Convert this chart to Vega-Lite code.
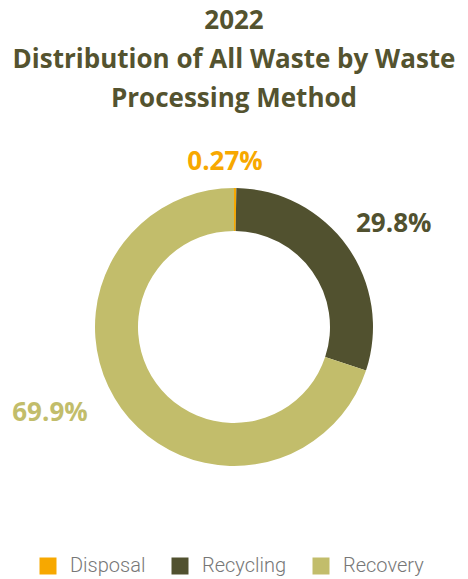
{
  "$schema": "https://vega.github.io/schema/vega-lite/v6.json",
  "width": 468,
  "height": 394,
  "autosize": {"type": "none"},
  "padding": {"top": 130, "bottom": 55, "left": 0, "right": 0},
  "background": "white",
  "title": {
    "text": ["2022", "Distribution of All Waste by Waste", "Processing Method"],
    "font": "Open Sans",
    "fontSize": 26,
    "fontWeight": "bold",
    "color": "#54532F",
    "lineHeight": 39,
    "anchor": "middle",
    "offset": 3
  },
  "data": {
    "values": [
      {"method": "Disposal", "share": 0.27, "label": "0.27%", "order": 1},
      {"method": "Recycling", "share": 29.8, "label": "29.8%", "order": 2},
      {"method": "Recovery", "share": 69.9, "label": "69.9%", "order": 3}
    ]
  },
  "encoding": {
    "theta": {"field": "share", "type": "quantitative", "stack": true},
    "order": {"field": "order", "type": "quantitative"},
    "color": {
      "field": "method",
      "type": "nominal",
      "sort": ["Disposal", "Recycling", "Recovery"],
      "scale": {"domain": ["Disposal", "Recycling", "Recovery"], "range": ["#F7A800", "#51512F", "#C2BD6B"]},
      "legend": {
        "orient": "none",
        "legendX": 38,
        "legendY": 426,
        "direction": "horizontal",
        "title": null,
        "symbolType": "square",
        "symbolSize": 289,
        "symbolStrokeWidth": 0,
        "labelFont": "Roboto",
        "labelFontSize": 20,
        "labelColor": "#777777",
        "labelFontWeight": 300,
        "columnPadding": 24,
        "labelOffset": 12
      }
    }
  },
  "layer": [
    {
      "mark": {"type": "arc", "outerRadius": 139, "innerRadius": 96, "strokeWidth": 0}
    },
    {
      "mark": {"type": "text", "radius": 165, "thetaOffset": -0.063, "font": "Open Sans", "fontSize": 26, "fontWeight": "bold"},
      "encoding": {"text": {"condition": {"test": "datum.method == 'Disposal'", "field": "label"}, "value": ""}}
    },
    {
      "mark": {"type": "text", "radius": 190, "thetaOffset": 0.045, "font": "Open Sans", "fontSize": 26, "fontWeight": "bold"},
      "encoding": {"text": {"condition": {"test": "datum.method == 'Recycling'", "field": "label"}, "value": ""}}
    },
    {
      "mark": {"type": "text", "radius": 203, "thetaOffset": 0.19, "font": "Open Sans", "fontSize": 26, "fontWeight": "bold"},
      "encoding": {"text": {"condition": {"test": "datum.method == 'Recovery'", "field": "label"}, "value": ""}}
    }
  ],
  "config": {"view": {"stroke": null}}
}
